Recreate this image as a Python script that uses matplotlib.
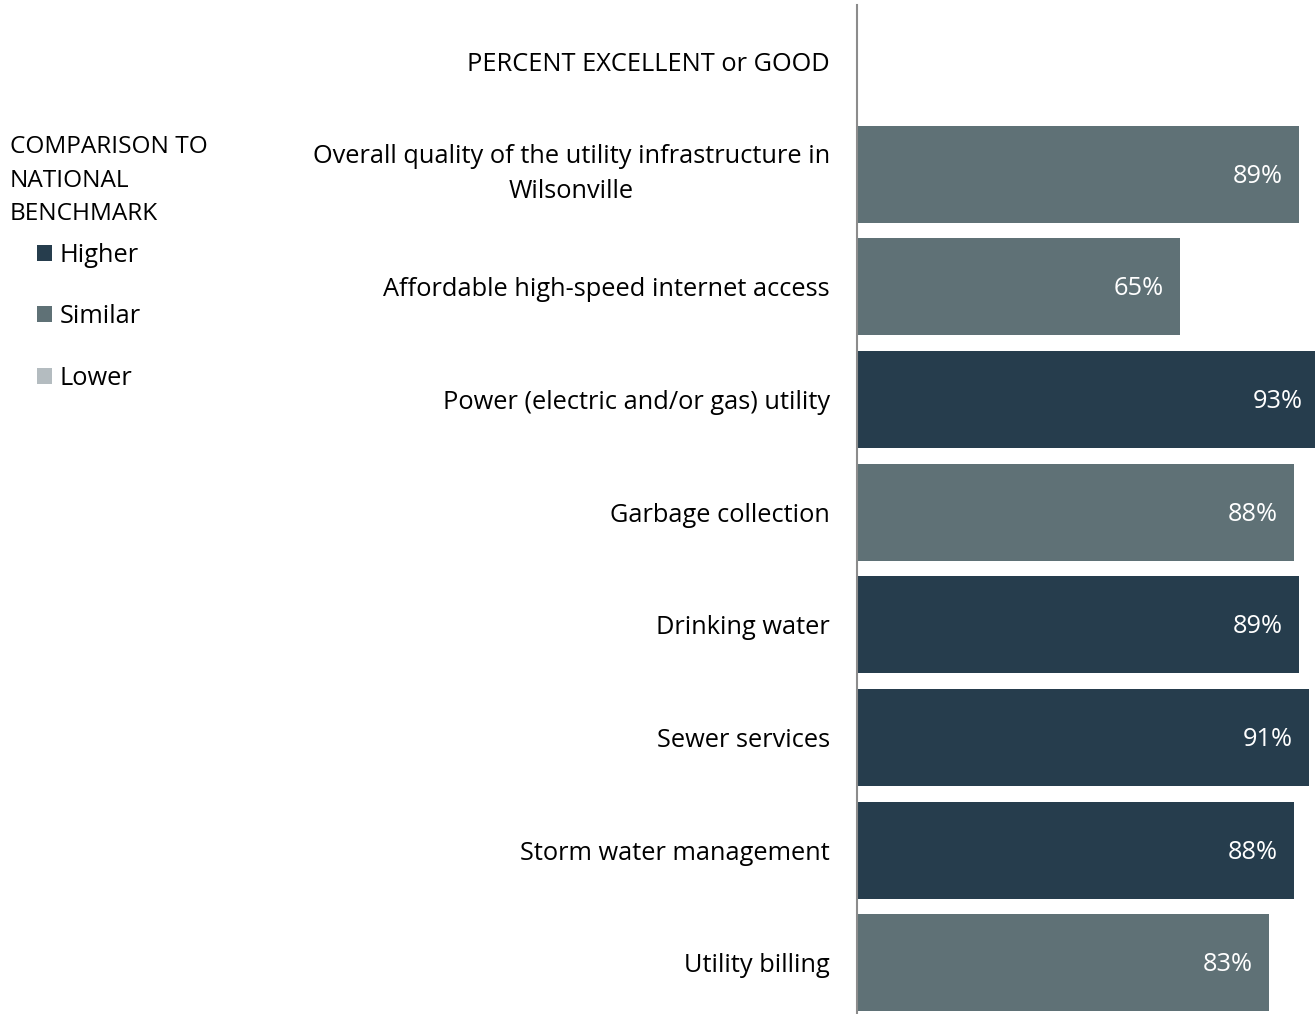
import matplotlib
matplotlib.use('Agg')
from matplotlib import pyplot as plt
from matplotlib.patches import Patch

plt.rcParams['font.family'] = ['Open Sans', 'DejaVu Sans']

# data
categories = [
    'Overall quality of the utility infrastructure in\nWilsonville',
    'Affordable high-speed internet access',
    'Power (electric and/or gas) utility',
    'Garbage collection',
    'Drinking water',
    'Sewer services',
    'Storm water management',
    'Utility billing',
]
percent_good = [89, 65, 93, 88, 89, 91, 88, 83]
comparison = ['Similar', 'Similar', 'Higher', 'Similar', 'Higher', 'Higher', 'Higher', 'Similar']

header = 'PERCENT EXCELLENT or GOOD'
legend_title = 'COMPARISON TO\nNATIONAL\nBENCHMARK'
levels = ['Higher', 'Similar', 'Lower']
level_colors = {'Higher': '#263d4d', 'Similar': '#5f7176', 'Lower': '#b4bcc0'}

W, H = 1315, 1014
fs = 18.3
fig = plt.figure(figsize=(W / 100, H / 100), dpi=100)
ax = fig.add_axes([857 / W, 0, 1 - 857 / W, (H - 5) / H])

# row 0 holds the header, bars start at row 1
rows = list(range(1, len(categories) + 1))
colors = [level_colors[c] for c in comparison]
bars = ax.barh(rows, percent_good, height=0.86, color=colors)

for bar, val in zip(bars, percent_good):
    ax.annotate(f'{val}%', xy=(bar.get_width(), bar.get_y() + bar.get_height() / 2),
                xytext=(-16, -2), textcoords='offset pixels', annotation_clip=False,
                ha='right', va='center', color='white', fontsize=fs)

ax.set_yticks([0] + rows)
ax.set_yticklabels([header] + categories, fontsize=fs, ha='right', linespacing=1.56)
for lab in ax.get_yticklabels():
    lab.set_multialignment('center')
    if '\n' in lab.get_text():
        lab.set_va('center')
ax.tick_params(axis='y', length=0, pad=19.5)
ax.set_xlim(0, 92.3)
ax.set_ylim(8.453, -0.5)
ax.set_xticks([])

for side in ['top', 'right', 'bottom']:
    ax.spines[side].set_visible(False)
ax.spines['left'].set_color('#8c8c8c')
ax.spines['left'].set_linewidth(1.5)

# legend block on the left
fig.text(10 / W, 1 - 135 / H, legend_title, ha='left', va='top', fontsize=17.6,
         linespacing=1.53)
handles = [Patch(facecolor=level_colors[lv], label=lv) for lv in levels]
fig.legend(handles=handles, loc='upper left', bbox_to_anchor=(37 / W, 1 - 243 / H),
           frameon=False, fontsize=fs, handlelength=0.6, handleheight=0.6,
           handletextpad=0.3, labelspacing=1.43, borderpad=0, borderaxespad=0)

fig.savefig('out.png', dpi=100)
